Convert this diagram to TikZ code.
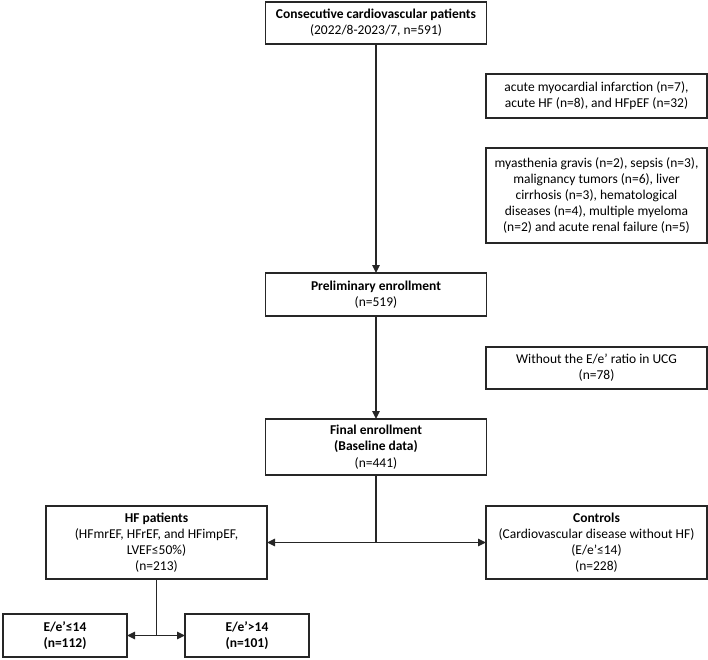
\documentclass[tikz,border=0pt]{standalone}
\usepackage{fontspec}
\setmainfont{Carlito}
\usetikzlibrary{arrows.meta}
\begin{document}
\begin{tikzpicture}[x=1pt,y=-1pt,
  box/.style={draw=black!85, line width=1.5pt, align=center, inner sep=0pt, outer sep=0pt,
    anchor=north west, minimum width=221pt, font=\fontsize{13.5}{16.2}\selectfont},
  arr/.style={draw=black!85, line width=1.5pt, -{Triangle[length=8pt,width=7.5pt]}},
  ln/.style={draw=black!85, line width=1.5pt}]
\useasboundingbox (0,0) rectangle (708,659);
\node[box, minimum height=42pt] (top) at (265.5,2) {\textbf{Consecutive cardiovascular patients}\\(2022/8-2023/7, n=591)};
\node[box, minimum height=44pt] (ex1) at (486,74) {acute myocardial infarction (n=7),\\acute HF (n=8), and HFpEF (n=32)};
\node[box, minimum height=95pt] (ex2) at (486,148) {myasthenia gravis (n=2), sepsis (n=3),\\malignancy tumors (n=6), liver\\cirrhosis (n=3), hematological\\diseases (n=4), multiple myeloma\\(n=2) and acute renal failure (n=5)};
\node[box, minimum height=43pt] (pre) at (265.5,273) {\textbf{Preliminary enrollment}\\(n=519)};
\node[box, minimum height=42pt] (ex3) at (486,347) {Without the E/e’ ratio in UCG\\(n=78)};
\node[box, minimum height=56pt] (fin) at (265.5,419) {\textbf{Final enrollment}\\\textbf{(Baseline data)}\\(n=441)};
\node[box, minimum height=73pt] (hf) at (46,506) {\textbf{HF patients}\\(HFmrEF, HFrEF, and HFimpEF,\\LVEF≤50\%)\\(n=213)};
\node[box, minimum height=73pt] (ctl) at (486,506) {\textbf{Controls}\\(Cardiovascular disease without HF)\\(E/e’≤14)\\(n=228)};
\node[box, minimum width=124pt, minimum height=43pt] (e1) at (3,614) {\textbf{E/e’≤14}\\\textbf{(n=112)}};
\node[box, minimum width=124pt, minimum height=43pt] (e2) at (185,614) {\textbf{E/e’>14}\\\textbf{(n=101)}};
\draw[arr] (top) -- (pre);
\draw[arr] (pre) -- (fin);
\coordinate (j1) at (fin.south |- hf.east);
\draw[ln] (fin.south) -- (j1);
\draw[arr] (j1) -- (hf.east);
\draw[arr] (j1) -- (ctl.west);
\coordinate (j2) at (hf.south |- e1.east);
\draw[ln] (hf.south) -- (j2);
\draw[arr] (j2) -- (e1.east);
\draw[arr] (j2) -- (e2.west);
\end{tikzpicture}
\end{document}
